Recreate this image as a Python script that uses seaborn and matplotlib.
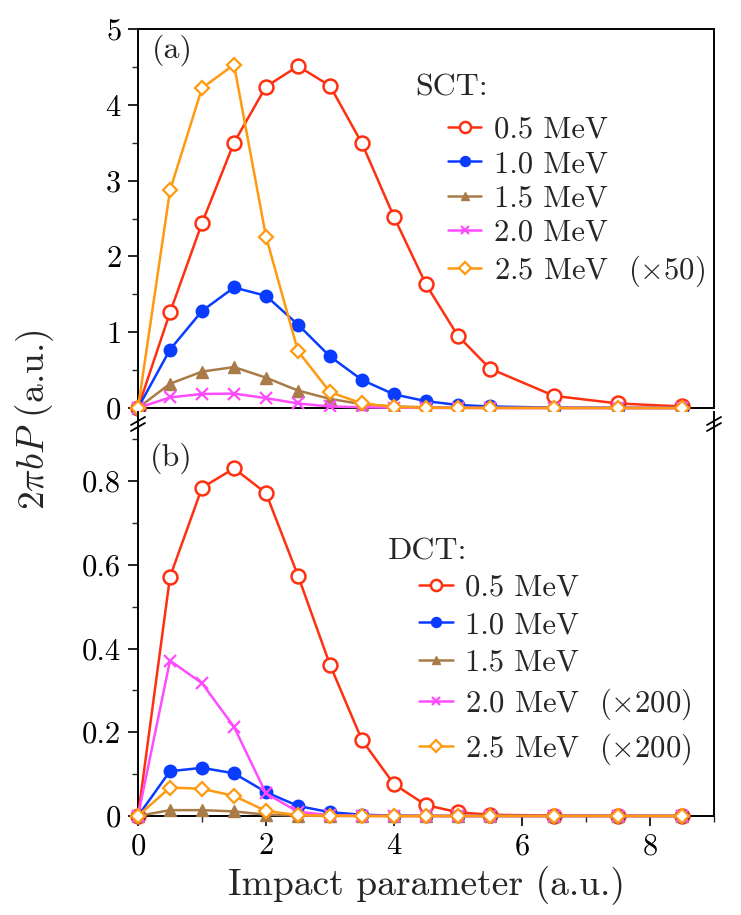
import numpy as np
import pandas as pd
import matplotlib.pyplot as plt
import seaborn as sns
from matplotlib.lines import Line2D
from matplotlib.ticker import MultipleLocator

sns.set_theme(style="ticks")
plt.rcParams['font.family'] = ['cmr10', 'DejaVu Serif']
plt.rcParams['mathtext.fontset'] = 'cm'
plt.rcParams['axes.formatter.use_mathtext'] = True

# impact parameter grid
b = [0, 0.5, 1, 1.5, 2, 2.5, 3, 3.5, 4, 4.5, 5, 5.5, 6.5, 7.5, 8.5]

# (a) SCT
sct_05 = [0, 1.26, 2.44, 3.50, 4.24, 4.51, 4.25, 3.49, 2.52, 1.63, 0.95, 0.52, 0.16, 0.06, 0.02]
sct_10 = [0, 0.77, 1.28, 1.59, 1.48, 1.10, 0.68, 0.37, 0.18, 0.09, 0.04, 0.02, 0.005, 0.002, 0.001]
sct_15 = [0, 0.32, 0.48, 0.54, 0.40, 0.23, 0.12, 0.05, 0.02, 0.01, 0.004, 0.002, 0.001, 0, 0]
sct_20 = [0, 0.14, 0.185, 0.19, 0.13, 0.06, 0.02, 0.01, 0.004, 0.002, 0.001, 0, 0, 0, 0]
sct_25 = [0, 2.87, 4.22, 4.53, 2.26, 0.75, 0.21, 0.06, 0.015, 0.004, 0.001, 0, 0, 0, 0]

# (b) DCT
dct_05 = [0, 0.571, 0.784, 0.830, 0.771, 0.574, 0.361, 0.181, 0.076, 0.026, 0.009, 0.003, 0.001, 0.0005, 0.0002]
dct_10 = [0, 0.107, 0.115, 0.102, 0.057, 0.024, 0.009, 0.003, 0.001, 0.0005, 0, 0, 0, 0, 0]
dct_15 = [0, 0.014, 0.014, 0.011, 0.003, 0.001, 0, 0, 0, 0, 0, 0, 0, 0, 0]
dct_20 = [0, 0.371, 0.317, 0.213, 0.054, 0.010, 0.002, 0.001, 0, 0, 0, 0, 0, 0, 0]
dct_25 = [0, 0.068, 0.065, 0.048, 0.012, 0.002, 0.001, 0, 0, 0, 0, 0, 0, 0, 0]

sct_labels = ['0.5 MeV', '1.0 MeV', '1.5 MeV', '2.0 MeV', r'2.5 MeV  $(\times50)$']
dct_labels = ['0.5 MeV', '1.0 MeV', '1.5 MeV', r'2.0 MeV  $(\times200)$', r'2.5 MeV  $(\times200)$']

colors = ['#ff3010', '#0a3cff', '#a87b48', '#ff4cff', '#ff9a10']
styles = [
    dict(marker='o', markersize=10, markerfacecolor='white', markeredgewidth=1.8),
    dict(marker='o', markersize=9, markerfacecolor=None, markeredgewidth=1.0),
    dict(marker='^', markersize=8, markeredgewidth=1.0),
    dict(marker='x', markersize=8, markeredgewidth=1.6),
    dict(marker='D', markersize=7.5, markerfacecolor='white', markeredgewidth=1.6),
]

W, H = 741, 915
fig = plt.figure(figsize=(W / 100, H / 100), dpi=100)


def px_box(x0, y0, x1, y1):
    return [x0 / W, 1 - y1 / H, (x1 - x0) / W, (y1 - y0) / H]


ax1 = fig.add_axes(px_box(138, 29, 714, 408))
ax2 = fig.add_axes(px_box(138, 412, 714, 816))


def draw(ax, series, labels):
    for ys, lab, c, st in zip(series, labels, colors, styles):
        df = pd.DataFrame({'b': b, 'v': ys})
        kw = dict(st)
        if kw.get('markerfacecolor', 'x') is None:
            kw['markerfacecolor'] = c
        sns.lineplot(data=df, x='b', y='v', ax=ax, color=c, linewidth=1.8,
                     markeredgecolor=c, label=lab, clip_on=False, zorder=3, **kw)


draw(ax1, [sct_05, sct_10, sct_15, sct_20, sct_25], sct_labels)
draw(ax2, [dct_05, dct_10, dct_15, dct_20, dct_25], dct_labels)

for ax in (ax1, ax2):
    ax.set_xlim(0, 9)
    ax.xaxis.set_major_locator(MultipleLocator(2))
    ax.xaxis.set_minor_locator(MultipleLocator(1))
    ax.tick_params(which='major', direction='out', length=7, width=1.2, labelsize=22,
                   colors='black', pad=5)
    ax.tick_params(which='minor', direction='out', length=4, width=1.0)
    ax.set_xlabel('')
    ax.set_ylabel('')
    for s in ax.spines.values():
        s.set_linewidth(1.4)
        s.set_color('black')

ax1.set_ylim(0, 5)
ax1.yaxis.set_major_locator(MultipleLocator(1))
ax1.yaxis.set_minor_locator(MultipleLocator(0.5))
ax1.tick_params(axis='x', which='both', bottom=False, labelbottom=False)

ax2.set_ylim(0, (816 - 412) / 418.75)
ax2.yaxis.set_major_locator(MultipleLocator(0.2))
ax2.yaxis.set_minor_locator(MultipleLocator(0.1))
ax2.spines['top'].set_visible(False)
ax2.set_yticks([0, 0.2, 0.4, 0.6, 0.8])
ax2.set_yticklabels(['0', '0.2', '0.4', '0.6', '0.8'])
ax2.set_xlabel('Impact parameter (a.u.)', fontsize=27, labelpad=4)

ax1.text(0.024, 0.985, '(a)', transform=ax1.transAxes, fontsize=23, va='top', ha='left')
ax2.text(0.021, 0.925, '(b)', transform=ax2.transAxes, fontsize=23, va='top', ha='left')

ax1.text(0.481, 0.845, 'SCT:', transform=ax1.transAxes, fontsize=23, va='center', ha='left')
ax2.text(0.434, 0.655, 'DCT:', transform=ax2.transAxes, fontsize=23, va='center', ha='left')

legend_kw = dict(loc='upper left', frameon=False, fontsize=22, handlelength=1.1,
                 handletextpad=0.4, borderpad=0, borderaxespad=0, markerscale=0.8)
ax1.legend(bbox_to_anchor=(0.538, 0.769), labelspacing=0.22, **legend_kw)
ax2.legend(bbox_to_anchor=(0.488, 0.598), labelspacing=0.32, **legend_kw)

fig.text(35 / W, 1 - 420 / H, r'$2\pi bP$ (a.u.)', rotation=90, fontsize=27,
         ha='center', va='center')

# axis break marks
for xc in (138, 714):
    for dy in (0, 6):
        fig.add_artist(Line2D([(xc - 7) / W, (xc + 7) / W],
                              [1 - (425 + dy) / H, 1 - (417 + dy) / H],
                              color='black', linewidth=1.3))

fig.savefig('out.png', dpi=100)
